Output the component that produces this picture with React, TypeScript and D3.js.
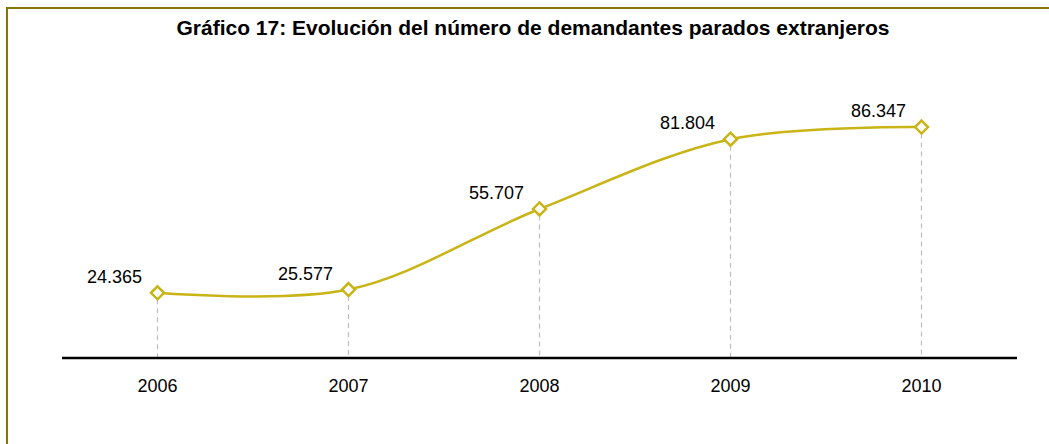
import React from "react";
import * as d3 from "d3";

const years = ["2006", "2007", "2008", "2009", "2010"];
const values = [24365, 25577, 55707, 81804, 86347];
const valueLabels = ["24.365", "25.577", "55.707", "81.804", "86.347"];
const title = "Gráfico 17: Evolución del número de demandantes parados extranjeros";

const W = 1049;
const H = 444;
const lineColor = "#C9B416";
const font = "Liberation Sans, Arial, Helvetica, sans-serif";

export default function App() {
  const x = d3.scaleBand<string>().domain(years).range([62, 1017]);
  const cx = (y: string) => (x(y) as number) + x.bandwidth() / 2;
  const y = d3.scaleLinear().domain([0, 100000]).range([358, 90.5]);
  const pts: [number, number][] = years.map((yr, i) => [cx(yr), y(values[i])]);
  const line = d3.line().curve(d3.curveCatmullRom.alpha(0.5))(pts) || "";
  const axisY = y(0);
  const s = 6.5;
  return (
    <svg width={W} height={H} style={{ position: "absolute", left: 0, top: 0, background: "#fff" }}>
      <rect x={7} y={8} width={W + 20} height={H + 20} fill="#fff" stroke="#857600" strokeWidth={2} />
      <text x={533} y={35} textAnchor="middle" fontFamily={font} fontWeight="bold" fontSize={21} fill="#000">
        {title}
      </text>
      {pts.map(([px, py], i) => (
        <line key={"d" + i} x1={px} x2={px} y1={py + s} y2={axisY} stroke="#BDBDBD" strokeWidth={1.2} strokeDasharray="5,4" />
      ))}
      <line x1={62} x2={1017} y1={axisY} y2={axisY} stroke="#000" strokeWidth={2.5} />
      <path d={line} fill="none" stroke={lineColor} strokeWidth={2.5} />
      {pts.map(([px, py], i) => (
        <path
          key={"m" + i}
          d={`M${px},${py - s}L${px + s},${py}L${px},${py + s}L${px - s},${py}Z`}
          fill="#fff"
          stroke={lineColor}
          strokeWidth={2.5}
        />
      ))}
      {pts.map(([px, py], i) => (
        <text key={"v" + i} x={px - 43} y={py - 10} textAnchor="middle" fontFamily={font} fontSize={18} fill="#000">
          {valueLabels[i]}
        </text>
      ))}
      {years.map((yr) => (
        <text key={yr} x={cx(yr)} y={392} textAnchor="middle" fontFamily={font} fontSize={18} fill="#000">
          {yr}
        </text>
      ))}
    </svg>
  );
}
